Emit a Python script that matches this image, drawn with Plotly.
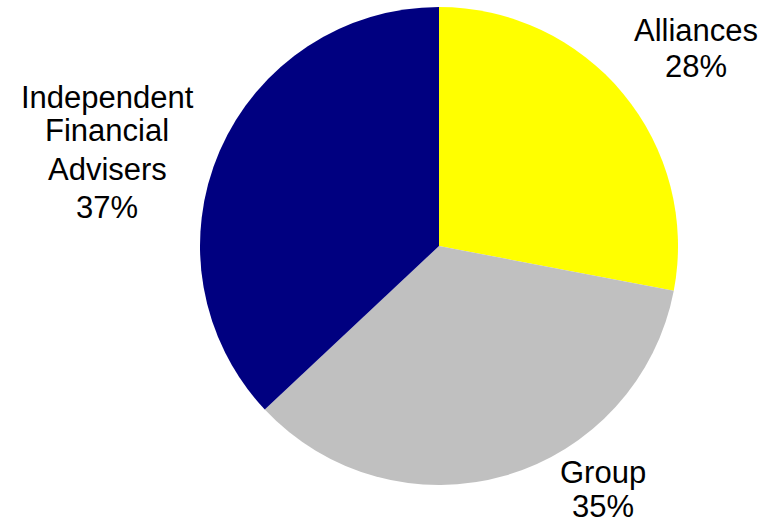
import plotly.graph_objects as go

labels = ["Alliances", "Group", "Independent Financial Advisers"]
values = [28, 35, 37]
colors = ["#FFFF00", "#C0C0C0", "#000080"]

# label text layout (pixels): line breaks, centre x, and centre y of each line
label_lines = [["Alliances"], ["Group"], ["Independent", "Financial", "Advisers"]]
label_x = [696, 603, 107]
label_line_y = [[30, 67], [472, 506], [97, 130, 169, 207]]

W, H = 778, 523
cx, cy, r = 439, 246, 239

fig = go.Figure(go.Pie(
    labels=labels, values=values, sort=False, direction="clockwise", rotation=0,
    marker=dict(colors=colors, line=dict(width=0)),
    textinfo="none", hoverinfo="label+percent", showlegend=False,
    domain=dict(x=[(cx - r) / W, (cx + r) / W], y=[(H - cy - r) / H, (H - cy + r) / H]),
))

total = sum(values)
for lines, v, px, ys in zip(label_lines, values, label_x, label_line_y):
    texts = lines + [f"{round(100 * v / total)}%"]
    for t, py in zip(texts, ys):
        fig.add_annotation(
            x=px / W, y=1 - py / H, xref="paper", yref="paper",
            text=t, showarrow=False, xanchor="center", yanchor="middle",
            font=dict(family="Liberation Sans, Arial, sans-serif", size=31, color="black"),
        )

fig.update_layout(width=W, height=H, margin=dict(l=0, r=0, t=0, b=0),
                  paper_bgcolor="white", plot_bgcolor="white")
fig.write_html("out.html")
